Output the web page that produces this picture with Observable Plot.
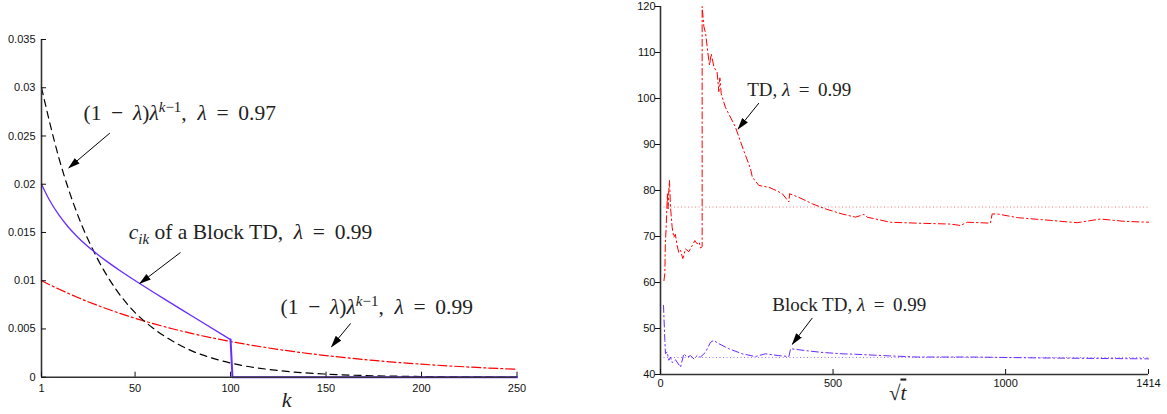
<!DOCTYPE html>
<html><head><meta charset="utf-8">
<script src="https://cdn.jsdelivr.net/npm/d3@7"></script>
<script src="https://cdn.jsdelivr.net/npm/@observablehq/plot@0.6"></script>
<style>
html,body{margin:0;padding:0;background:#fff;}
#wrap{position:relative;width:1167px;height:414px;overflow:hidden;background:#fff;}
#wrap svg{position:absolute;top:0;}
</style></head><body><div id="wrap"></div>
<script>
// ---------- Left panel data ----------
const kSamples   = [1, 10, 20, 30, 40, 50, 60, 70, 80, 90, 100, 125, 150, 175, 200, 225, 250];
const weights097 = [0.0300, 0.0228, 0.0168, 0.0124, 0.0091, 0.0067, 0.0050, 0.0037, 0.0027, 0.0020, 0.00147, 0.00069, 0.00032, 0.00015, 0.00007, 0.00003, 0.00002];
const weights099 = [0.0100, 0.00914, 0.00826, 0.00747, 0.00676, 0.00611, 0.00553, 0.00500, 0.00452, 0.00409, 0.00370, 0.00288, 0.00224, 0.00174, 0.00135, 0.00105, 0.00082];
const blockK     = [1, 5, 10, 15, 20, 28, 35, 42, 52, 65, 80, 100];
const blockC     = [0.0200, 0.01842, 0.01684, 0.01557, 0.01451, 0.0131, 0.01203, 0.01106, 0.00976, 0.00814, 0.00632, 0.0039];
const blockTailK = [100, 101, 250];
const blockTailC = [0.0039, 0, 0];
const leftXTicks = [1, 50, 100, 150, 200, 250];
const leftYTicks = [0, 0.005, 0.01, 0.015, 0.02, 0.025, 0.03, 0.035];
const leftXDomain = [1, 250];
const leftYDomain = [0, 0.035];

const leftNotes = [
  {k: 23,    c: 0.0274,  text: "(1 − *λ*)*λ*^{*k*−1},  *λ* = 0.97"},
  {k: 46.7,  c: 0.0150,  text: "*c*_{*ik*} of a Block TD,  *λ* = 0.99"},
  {k: 126.2, c: 0.00724, text: "(1 − *λ*)*λ*^{*k*−1},  *λ* = 0.99"}
];
const leftArrows = [
  {k1: 36.8,  c1: 0.0253,  k2: 15.3,  c2: 0.0217},
  {k1: 73.8,  c1: 0.01293, k2: 52.5,  c2: 0.00972},
  {k1: 162.9, c1: 0.00558, k2: 152.9, c2: 0.00317}
];
const leftAxisLabel = {k: 129.3, text: "*k*"};

// ---------- Right panel data ----------
const tdT = [10, 12.6, 14, 16.4, 20, 22, 24, 26, 29, 33.8, 38.6, 43, 48.3, 53, 58, 64.7, 72.4, 82, 91.8, 99.4, 106.2, 112, 115.9, 120.7,
             120.7, 125.6, 131, 137, 142, 147, 155, 164, 169, 172, 176, 188, 217, 241, 261, 266, 285, 314, 335, 353, 372, 374, 401, 440, 478, 526, 565, 590, 599,
             666, 744, 840, 869, 889, 956, 961, 976, 1034, 1130, 1207, 1275, 1343, 1414];
const tdV = [60.4, 62, 68.4, 72, 79.3, 76, 80, 82.2, 76.4, 72, 69.8, 70.5, 68, 66.5, 67, 65.2, 67.3, 66.7, 68, 69.1, 68.4, 68.8, 67.5, 67.8,
             120, 115.7, 114, 110.1, 107.2, 109.7, 106.8, 105.7, 101.5, 104.5, 101, 98.1, 93.8, 88.7, 84.7, 82.9, 81.1, 80.7, 80, 79.3, 77.5, 79.3, 78.5, 77.1, 76, 74.9, 74.2, 74.8, 74.2,
             73.1, 72.9, 72.7, 72.4, 73.1, 72.9, 74.9, 74.9, 74.1, 73.5, 73.0, 73.8, 73.3, 73.1];
const blockT = [8.7, 12.6, 14.5, 19.3, 24.1, 29, 33.8, 43.5, 58, 67.6, 77.3, 87, 96.6, 106, 116, 130, 145, 154, 169, 198, 237, 275, 304, 343, 372, 377, 420, 468, 526, 565, 647, 744, 900, 1100, 1414];
const blockV = [55.0, 47.4, 44.5, 44.9, 43.1, 43.8, 42.6, 43.2, 41.6, 44.5, 43.8, 44.1, 43.4, 44.1, 43.8, 44.8, 47.0, 47.4, 46.7, 45.6, 44.5, 43.9, 44.5, 44.1, 43.9, 45.6, 45.2, 44.8, 44.5, 44.4, 44.1, 43.8, 43.8, 43.6, 43.4];
const tdLimit = 76.4;
const blockLimit = 43.7;
const rightXTicks = [0, 500, 1000, 1414];
const rightYTicks = [40, 50, 60, 70, 80, 90, 100, 110, 120];
const rightXDomain = [0, 1414];
const rightYDomain = [40, 120];

const rightNotes = [
  {t: 251, v: 101.9, text: "TD, *λ* = 0.99"},
  {t: 324, v: 55.2,  text: "Block TD, *λ* = 0.99"}
];
const rightArrows = [
  {t1: 285, v1: 99.0, t2: 225, v2: 93.4},
  {t1: 440, v1: 52.3, t2: 382, v2: 46.6}
];
const rightAxisLabel = {t: 687, text: "√*t*"};

// ---------- helpers ----------
const plain = s => s.replace(/[\^_]\{([^}]*)\}/g, "$1").replace(/\*/g, "");
function parseMarkup(s) {
  const out = [];
  const re = /(\^|_)\{([^}]*)\}/g;
  let last = 0, m;
  const push = (str, pos) => str.split("*").forEach((seg, j) => { if (seg) out.push({s: seg, i: j % 2 === 1, pos}); });
  while ((m = re.exec(s))) {
    push(s.slice(last, m.index), 0);
    push(m[2], m[1] === "^" ? 1 : -1);
    last = re.lastIndex;
  }
  push(s.slice(last), 0);
  return out;
}
function enrich(svg, markups, subSize) {
  const map = new Map(markups.map(s => [plain(s), s]));
  d3.select(svg).selectAll('g[aria-label="text"] text').each(function() {
    const src = map.get(this.textContent);
    if (!src) return;
    const sel = d3.select(this).text(null).style("white-space", "pre");
    let shift = 0;
    for (const p of parseMarkup(src)) {
      // TeX-like wider spacing around binary operators and relations
      const str = p.pos === 0 ? p.s.replace(/ ([−=]) /g, "\u2009 $1 \u2009") : p.s;
      const ts = sel.append("tspan").text(str);
      if (p.i) ts.attr("font-style", "italic");
      const target = p.pos === 1 ? -8 : p.pos === -1 ? 5 : 0;
      if (target !== shift) { ts.attr("dy", target - shift); shift = target; }
      if (p.pos !== 0) ts.attr("font-size", subSize + "px");
      if (p.s === "t" && src.startsWith("√")) ts.style("text-decoration", "overline");
    }
  });
}
function addArrowheads(svg, id) {
  const defs = d3.select(svg).insert("defs", ":first-child");
  defs.append("marker").attr("id", id).attr("viewBox", "0 -5 12 10").attr("refX", 11).attr("refY", 0)
    .attr("markerWidth", 12).attr("markerHeight", 10).attr("markerUnits", "userSpaceOnUse").attr("orient", "auto")
    .append("path").attr("d", "M0,-3.6L12,0L0,3.6Z").attr("fill", "black");
  d3.select(svg).selectAll('g[aria-label="link"] path').attr("marker-end", `url(#${id})`);
}
// convert a tick length in pixels to data units along a scale
const span = (domain, pixels, frame) => (domain[1] - domain[0]) * pixels / frame;

const serif = "'Liberation Serif', 'DejaVu Serif', serif";
const blue = "#6a2bff";
const styleBase = {fontFamily: "'Liberation Sans', Arial, sans-serif", fontSize: "11px", background: "transparent", color: "#111", overflow: "visible"};
const TICK = 5;

// ---------- Left plot ----------
const L = {w: 560, h: 414, ml: 41, mr: 43.5, mt: 39, mb: 37.3};
const LfW = L.w - L.ml - L.mr, LfH = L.h - L.mt - L.mb;
const leftSeries097 = kSamples.map((k, i) => ({k, v: weights097[i]}));
const leftSeries099 = kSamples.map((k, i) => ({k, v: weights099[i]}));
const leftBlock = blockK.map((k, i) => ({k, v: blockC[i]}));
const leftBlockTail = blockTailK.map((k, i) => ({k, v: blockTailC[i]}));

const left = Plot.plot({
  width: L.w, height: L.h,
  marginLeft: L.ml, marginRight: L.mr, marginTop: L.mt, marginBottom: L.mb,
  x: {domain: leftXDomain, axis: null},
  y: {domain: leftYDomain, axis: null},
  style: styleBase,
  marks: [
    Plot.line(leftSeries099, {x: "k", y: "v", curve: "monotone-x", stroke: "#ff0000", strokeWidth: 1.2, strokeDasharray: "9,3,2,3"}),
    Plot.line(leftSeries097, {x: "k", y: "v", curve: "monotone-x", stroke: "#000", strokeWidth: 1.2, strokeDasharray: "7,5"}),
    Plot.line(leftBlock, {x: "k", y: "v", curve: "monotone-x", stroke: blue, strokeWidth: 1.3}),
    Plot.line(leftBlockTail, {x: "k", y: "v", stroke: blue, strokeWidth: 2}),
    Plot.ruleX([leftXDomain[0]], {stroke: "#333", strokeWidth: 1.6}),
    Plot.ruleY([leftYDomain[0]], {stroke: "#333", strokeWidth: 1.6}),
    Plot.ruleY(leftYTicks, {y: d => d, x1: leftXDomain[0], x2: leftXDomain[0] + span(leftXDomain, TICK, LfW), stroke: "#111", strokeWidth: 1}),
    Plot.ruleX(leftXTicks, {x: d => d, y1: leftYDomain[0], y2: leftYDomain[0] + span(leftYDomain, TICK, LfH), stroke: "#111", strokeWidth: 1}),
    Plot.axisY({ticks: leftYTicks, tickSize: 0, tickPadding: 6, tickFormat: d => String(d), label: null}),
    Plot.axisX({ticks: leftXTicks, tickSize: 0, tickPadding: 7, tickFormat: d => String(d), label: null}),
    Plot.link(leftArrows, {x1: "k1", y1: "c1", x2: "k2", y2: "c2", stroke: "#000", strokeWidth: 1}),
    Plot.text(leftNotes, {x: "k", y: "c", text: d => plain(d.text), textAnchor: "start", fontFamily: serif, fontSize: 21.5, fill: "#222"}),
    Plot.text([leftAxisLabel], {x: "k", text: d => plain(d.text), frameAnchor: "bottom", dy: 30, fontFamily: serif, fontSize: 22, fill: "#222"})
  ]
});
left.style.left = "0px";
enrich(left, [...leftNotes.map(d => d.text), leftAxisLabel.text], 15);
addArrowheads(left, "ahL");

// ---------- Right plot ----------
const R = {w: 567, h: 414, ml: 60, mr: 19, mt: 6, mb: 40};
const RfW = R.w - R.ml - R.mr, RfH = R.h - R.mt - R.mb;
const tdSeries = tdT.map((t, i) => ({t, v: tdV[i]}));
const blockSeries = blockT.map((t, i) => ({t, v: blockV[i]}));

const right = Plot.plot({
  width: R.w, height: R.h,
  marginLeft: R.ml, marginRight: R.mr, marginTop: R.mt, marginBottom: R.mb,
  x: {domain: rightXDomain, axis: null},
  y: {domain: rightYDomain, axis: null},
  style: styleBase,
  marks: [
    Plot.ruleY([tdLimit], {stroke: "#ff6b6b", strokeWidth: 0.9, strokeDasharray: "1,2.5"}),
    Plot.ruleY([blockLimit], {stroke: "#8a66ff", strokeWidth: 0.9, strokeDasharray: "1,2.5"}),
    Plot.line(tdSeries, {x: "t", y: "v", stroke: "#ff0000", strokeWidth: 1, strokeDasharray: "7,3,1.5,3"}),
    Plot.line(blockSeries, {x: "t", y: "v", stroke: blue, strokeWidth: 1, strokeDasharray: "7,3,1.5,3"}),
    Plot.ruleX([rightXDomain[0]], {stroke: "#333", strokeWidth: 1.6}),
    Plot.ruleY([rightYDomain[0]], {stroke: "#333", strokeWidth: 1.6}),
    Plot.ruleY(rightYTicks, {y: d => d, x1: rightXDomain[0] - span(rightXDomain, TICK, RfW), x2: rightXDomain[0], stroke: "#111", strokeWidth: 1}),
    Plot.ruleX(rightXTicks, {x: d => d, y1: rightYDomain[0], y2: rightYDomain[0] + span(rightYDomain, TICK, RfH), stroke: "#111", strokeWidth: 1}),
    Plot.axisY({ticks: rightYTicks, tickSize: 0, tickPadding: 5, tickFormat: d => String(d), label: null}),
    Plot.axisX({ticks: rightXTicks, tickSize: 0, tickPadding: 5, tickFormat: d => String(d), label: null}),
    Plot.link(rightArrows, {x1: "t1", y1: "v1", x2: "t2", y2: "v2", stroke: "#000", strokeWidth: 1}),
    Plot.text(rightNotes, {x: "t", y: "v", text: d => plain(d.text), textAnchor: "start", fontFamily: serif, fontSize: 19, fill: "#222"}),
    Plot.text([rightAxisLabel], {x: "t", text: d => plain(d.text), frameAnchor: "bottom", dy: 25, fontFamily: serif, fontSize: 21, fill: "#222"})
  ]
});
right.style.left = "600px";
enrich(right, [...rightNotes.map(d => d.text), rightAxisLabel.text], 14);
addArrowheads(right, "ahR");

const wrap = document.getElementById("wrap");
wrap.appendChild(left);
wrap.appendChild(right);
</script>
</body></html>
